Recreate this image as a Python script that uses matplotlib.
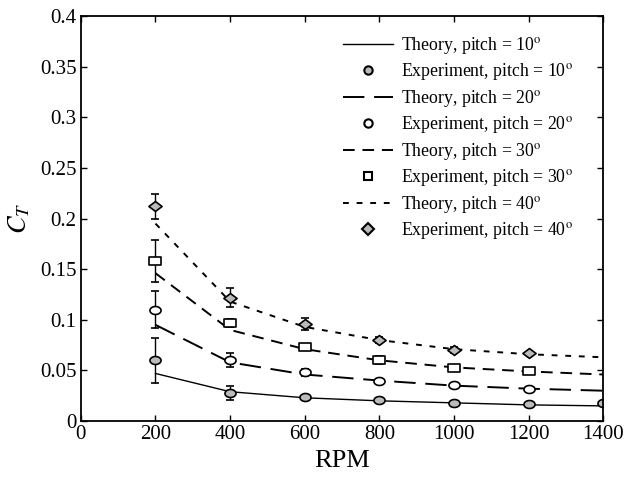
import matplotlib
matplotlib.use("Agg")
import matplotlib.pyplot as plt
from matplotlib.lines import Line2D
from matplotlib.path import Path
import numpy as np

plt.rcParams['font.family'] = ['Liberation Serif', 'DejaVu Serif']
plt.rcParams['mathtext.fontset'] = 'stix'

rpm = [200, 400, 600, 800, 1000, 1200, 1400]
rpm_exp = [200, 400, 600, 800, 1000, 1200]

theory10 = [0.047, 0.029, 0.023, 0.020, 0.018, 0.016, 0.015]
theory20 = [0.095, 0.058, 0.046, 0.040, 0.035, 0.032, 0.030]
theory30 = [0.146, 0.090, 0.071, 0.060, 0.053, 0.049, 0.046]
theory40 = [0.195, 0.118, 0.093, 0.080, 0.071, 0.066, 0.063]

exp10 = [0.060, 0.028, 0.024, 0.021, 0.018, 0.017, 0.018]
err10 = [0.022, 0.007, 0.001, 0.001, 0.001, 0.001, 0.001]
exp20 = [0.110, 0.060, 0.048, 0.040, 0.036, 0.032]
err20 = [0.018, 0.007, 0.003, 0.002, 0.002, 0.002]
exp30 = [0.158, 0.097, 0.073, 0.060, 0.052, 0.049]
err30 = [0.021, 0.004, 0.002, 0.004, 0.002, 0.002]
exp40 = [0.212, 0.122, 0.096, 0.080, 0.070, 0.067]
err40 = [0.012, 0.009, 0.006, 0.003, 0.003, 0.001]

xticks = [0, 200, 400, 600, 800, 1000, 1200, 1400]
yticks = [0, 0.05, 0.1, 0.15, 0.2, 0.25, 0.3, 0.35, 0.4]
ytick_labels = ['0', '0.05', '0.1', '0.15', '0.2', '0.25', '0.3', '0.35', '0.4']

# slightly flattened marker shapes (as in the reference)
t = np.linspace(0, 2 * np.pi, 41)
ellipse = Path(np.column_stack([np.cos(t), 0.72 * np.sin(t)]), closed=True)
rect = Path([(-1, -0.8), (1, -0.8), (1, 0.8), (-1, 0.8), (-1, -0.8)], closed=True)
diamond = Path([(0, -0.75), (1, 0), (0, 0.75), (-1, 0), (0, -0.75)], closed=True)

fig = plt.figure(figsize=(6.27, 4.84), dpi=100)
ax = fig.add_axes([0.129, 0.130, 0.833, 0.837])

l1, = ax.plot(rpm, theory10, color='black', lw=1.0, ls='-')
l2, = ax.plot(rpm, theory20, color='black', lw=1.4, ls=(0, (11, 5)))
l3, = ax.plot(rpm, theory30, color='black', lw=1.4, ls=(0, (6, 4)))
l4, = ax.plot(rpm, theory40, color='black', lw=1.4, ls=(0, (3, 4)))

ekw = dict(ls='none', ecolor='black', elinewidth=1.0, capsize=3, capthick=1.0,
           markeredgecolor='black', markeredgewidth=1.2)
ax.errorbar(rpm, exp10, yerr=err10, marker=ellipse, markerfacecolor='#bbbbbb', ms=8, **ekw)
ax.errorbar(rpm_exp, exp20, yerr=err20, marker=ellipse, markerfacecolor='white', ms=8, **ekw)
ax.errorbar(rpm_exp, exp30, yerr=err30, marker=rect, markerfacecolor='white', ms=8, **ekw)
ax.errorbar(rpm_exp, exp40, yerr=err40, marker=diamond, markerfacecolor='#bbbbbb', ms=9.5, **ekw)


def mk(marker, fc, ms=7):
    return Line2D([], [], ls='none', marker=marker, markerfacecolor=fc,
                  markeredgecolor='black', markeredgewidth=1.5, ms=ms)


deg = r'$^{\rm o}$'
handles = [l1, mk('o', '#bbbbbb', 6), l2, mk('o', 'white', 6), l3, mk('s', 'white', 6),
           l4, mk('D', '#bbbbbb', 6.5)]
labels = ['Theory, pitch = 10' + deg, 'Experiment, pitch = 10' + deg,
          'Theory, pitch = 20' + deg, 'Experiment, pitch = 20' + deg,
          'Theory, pitch = 30' + deg, 'Experiment, pitch = 30' + deg,
          'Theory, pitch = 40' + deg, 'Experiment, pitch = 40' + deg]
ax.legend(handles, labels, loc='upper right', frameon=False, fontsize=12.8,
          handlelength=2.8, labelspacing=0.31, bbox_to_anchor=(0.973, 0.993),
          handletextpad=0.45)

ax.set_xlim(0, 1400)
ax.set_ylim(0, 0.4)
ax.set_xticks(xticks)
ax.set_yticks(yticks)
ax.set_yticklabels(ytick_labels)
ax.tick_params(direction='in', top=True, right=True, labelsize=15, length=4, width=1, pad=3)
for s in ax.spines.values():
    s.set_linewidth(1.3)
ax.set_xlabel('RPM', fontsize=19, labelpad=4)
ax.set_ylabel(r'$C_T$', fontsize=19, labelpad=6)

fig.savefig('out.png', dpi=100)
